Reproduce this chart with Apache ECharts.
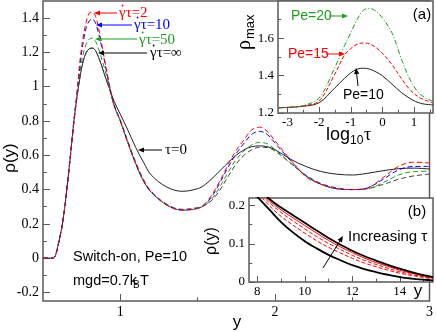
<!DOCTYPE html>
<html><head><meta charset="utf-8">
<script src="https://cdn.jsdelivr.net/npm/echarts@6/dist/echarts.min.js"></script>
<style>html,body{margin:0;padding:0;background:#fff}#c{width:436px;height:332px}</style>
</head><body><div id="c"></div>
<script>
// ---------- main panel data ----------
const mainX = [0.5,0.56,0.58,0.6,0.62,0.64,0.66,0.68,0.7,
  0.72,0.74,0.76,0.78,0.8,0.82,0.84,0.86,0.88,0.9,
  0.93,0.96,1.0,1.05,1.1,1.15,1.2,1.3,1.4,1.5,
  1.55,1.6,1.65,1.7,1.75,1.8,1.85,1.9,1.95,2.0,
  2.1,2.2,2.3,2.4,2.5,2.6,2.7,2.8,2.9,3.0];
const rhoShear2 = [0,0,0.015,0.085,0.17,0.29,0.45,0.62,0.80,
  0.97,1.16,1.29,1.38,1.43,1.435,1.41,1.34,1.25,1.15,
  1.01,0.89,0.80,0.67,0.55,0.45,0.385,0.31,0.28,0.29,
  0.32,0.38,0.46,0.55,0.63,0.69,0.748,0.764,0.74,0.685,
  0.575,0.475,0.43,0.405,0.40,0.41,0.47,0.535,0.56,0.555];
const rhoShear10 = [0,0,0.015,0.085,0.17,0.29,0.45,0.62,0.80,
  0.96,1.13,1.26,1.345,1.385,1.394,1.37,1.31,1.23,1.14,
  1.005,0.89,0.80,0.67,0.55,0.45,0.385,0.31,0.28,0.29,
  0.315,0.37,0.45,0.535,0.61,0.67,0.722,0.74,0.722,0.672,
  0.57,0.48,0.43,0.405,0.40,0.41,0.46,0.515,0.535,0.535];
const rhoShear50 = [0,0,0.015,0.085,0.17,0.29,0.45,0.62,0.80,
  0.95,1.09,1.19,1.25,1.278,1.283,1.265,1.22,1.16,1.10,
  0.995,0.89,0.80,0.67,0.55,0.45,0.385,0.31,0.28,0.29,
  0.31,0.355,0.425,0.505,0.575,0.625,0.66,0.676,0.667,0.635,
  0.555,0.48,0.43,0.405,0.40,0.405,0.44,0.485,0.505,0.507];
const rhoShearInf = [0,0,0.015,0.085,0.17,0.29,0.45,0.62,0.80,
  0.94,1.06,1.15,1.20,1.222,1.225,1.21,1.17,1.12,1.065,
  0.985,0.895,0.805,0.68,0.56,0.46,0.39,0.315,0.285,0.295,
  0.31,0.345,0.405,0.48,0.55,0.60,0.632,0.647,0.645,0.625,
  0.555,0.485,0.435,0.41,0.40,0.405,0.43,0.46,0.48,0.49];
const rhoTau0 = [0,0,0.015,0.085,0.17,0.29,0.45,0.62,0.80,
  0.94,1.06,1.15,1.20,1.222,1.225,1.21,1.17,1.12,1.065,
  0.99,0.915,0.84,0.745,0.645,0.56,0.485,0.415,0.39,0.405,
  0.43,0.47,0.515,0.56,0.60,0.632,0.65,0.655,0.65,0.633,
  0.578,0.535,0.505,0.49,0.485,0.495,0.51,0.522,0.525,0.52];
const mainXTicks = [1,2,3];
const mainXMinor = [1.5,2.5];
const mainYTicks = [-0.2,0,0.2,0.4,0.6,0.8,1,1.2,1.4];
const mainYMinor = [-0.1,0.1,0.3,0.5,0.7,0.9,1.1,1.3];

// ---------- inset (a) data ----------
const logTau = [-3.3,-3,-2.5,-2,-1.5,-1.2,-1,-0.8,-0.6,-0.4,-0.2,0,0.3,0.6,0.9,1.2,1.6];
const rhoMaxPe10 = [1.228,1.23,1.236,1.255,1.335,1.385,1.415,1.435,1.44,1.435,1.42,1.40,1.355,1.31,1.275,1.252,1.243];
const rhoMaxPe15 = [1.228,1.23,1.238,1.265,1.41,1.51,1.545,1.568,1.575,1.57,1.55,1.52,1.46,1.385,1.32,1.28,1.255];
const rhoMaxPe20 = [1.228,1.23,1.24,1.28,1.445,1.56,1.63,1.70,1.75,1.76,1.745,1.71,1.63,1.49,1.37,1.30,1.262];
const aXTicks = [-3,-2,-1,0,1];
const aXMinor = [-2.5,-1.5,-0.5,0.5,1.5];
const aYTicks = [1.2,1.4,1.6];
const aYMinor = [1.3,1.5,1.7];

// ---------- inset (b) data ----------
const bX = [7.65,8,8.5,9,9.5,10,10.5,11,11.5,12,12.5,13,13.5,14,14.5,15,15.4];
const bLower = [0.245,0.223,0.19,0.157,0.130,0.107,0.088,0.071,0.057,0.044,0.034,0.026,0.019,0.013,0.009,0.006,0.004];
const bRed3 = [0.255,0.235,0.2,0.172,0.149,0.128,0.108,0.091,0.076,0.062,0.050,0.040,0.031,0.023,0.017,0.012,0.008];
const bRed2 = [0.26,0.24,0.208,0.182,0.160,0.139,0.119,0.101,0.085,0.070,0.057,0.046,0.036,0.027,0.020,0.014,0.010];
const bRed1 = [0.265,0.245,0.213,0.189,0.168,0.148,0.128,0.109,0.092,0.077,0.063,0.051,0.041,0.031,0.023,0.016,0.011];
const bUpper = [0.27,0.25,0.218,0.195,0.175,0.155,0.135,0.115,0.098,0.082,0.068,0.056,0.045,0.035,0.026,0.018,0.013];
const bXTicks = [8,10,12,14];
const bXMinor = [9,11,13,15];
const bYTicks = [0,0.1,0.2];
const bYMinor = [0.05,0.15];

const SERIF = '"Liberation Serif","DejaVu Serif",serif';
const SANS = '"Liberation Sans",Arial,sans-serif';
const RED = '#ff0000', BLUE = '#0000ff', GREEN = '#1f9c1f', BLACK = '#000000', GRAY = '#444444';
const FRAME = '#5a5a5a';

function pairs(xs, ys) { return xs.map((x, i) => [x, ys[i]]); }
function fmt(v) { return String(Math.round(v * 10) / 10); }

function axisPair(dim, gridIndex, min, max, majors, minors, z, fontSize, margin, len) {
  const base = {
    type: 'value', gridIndex, min, max, z,
    position: dim === 'x' ? 'bottom' : 'left',
    offset: 0,
    splitLine: { show: false },
    axisLine: { show: false, onZero: false }
  };
  const major = Object.assign({}, base, {
    axisTick: { show: true, inside: true, length: len, customValues: majors, lineStyle: { color: FRAME, width: 1 } },
    axisLabel: { show: true, customValues: majors, formatter: fmt, margin,
      fontFamily: SERIF, fontSize, color: '#000' }
  });
  const minor = Object.assign({}, base, {
    axisTick: { show: true, inside: true, length: len * 0.55, customValues: minors, lineStyle: { color: FRAME, width: 1 } },
    axisLabel: { show: false }
  });
  return [major, minor];
}

const xAxes = [
  ...axisPair('x', 0, 0.5, 3, mainXTicks, mainXMinor, 1, 14, 4, 7),
  ...axisPair('x', 1, -3.3, 1.6, aXTicks, aXMinor, 11, 13, 3, 6),
  ...axisPair('x', 2, 7.65, 15.4, bXTicks, bXMinor, 21, 13, 3, 6)
];
const yAxes = [
  ...axisPair('y', 0, -0.25, 1.5, mainYTicks, mainYMinor, 1, 14, 4, 7),
  ...axisPair('y', 1, 1.2, 1.8, aYTicks, aYMinor, 11, 13, 4, 6),
  ...axisPair('y', 2, 0, 0.22, bYTicks, bYMinor, 21, 13, 4, 6)
];

function line(xs, ys, color, type, width, xi, yi, z) {
  return {
    type: 'line', data: pairs(xs, ys), xAxisIndex: xi, yAxisIndex: yi, z,
    showSymbol: false, smooth: 0.35, clip: true, animation: false, silent: true,
    lineStyle: { color, width, type }
  };
}

const series = [
  line(mainX, rhoTau0, '#222', 'solid', 1, 0, 0, 2),
  line(mainX, rhoShearInf, GRAY, [5, 3], 1, 0, 0, 2),
  line(mainX, rhoShear50, GREEN, [5, 3], 1, 0, 0, 2),
  line(mainX, rhoShear10, BLUE, [5, 3], 1, 0, 0, 2),
  line(mainX, rhoShear2, RED, [5, 3], 1, 0, 0, 2),
  line(logTau, rhoMaxPe10, '#222', 'solid', 1, 2, 2, 12),
  line(logTau, rhoMaxPe15, RED, [4, 2], 1, 2, 2, 12),
  line(logTau, rhoMaxPe20, GREEN, [5, 2, 1, 2], 1, 2, 2, 12),
  line(bX, bLower, BLACK, 'solid', 1.8, 4, 4, 22),
  line(bX, bRed3, RED, [4, 2], 1, 4, 4, 22),
  line(bX, bRed2, RED, [4, 2], 1, 4, 4, 22),
  line(bX, bRed1, RED, 'solid', 1, 4, 4, 22),
  line(bX, bUpper, BLACK, 'solid', 1.8, 4, 4, 22)
];

function txt(text, x, y, opt, rot) {
  const el = {
    type: 'text', z: 50, silent: true,
    style: Object.assign({ text, x, y, fill: '#000', font: '15px ' + SANS,
      align: 'left', verticalAlign: 'middle' }, opt || {})
  };
  if (rot) { el.x = x; el.y = y; el.rotation = rot; el.style.x = 0; el.style.y = 0; }
  return el;
}
function arrow(x1, y1, x2, y2, color) {
  const a = Math.atan2(y2 - y1, x2 - x1), L = 6, W = 2.6;
  const bx = x2 - L * Math.cos(a), by = y2 - L * Math.sin(a);
  return [
    { type: 'line', z: 50, silent: true, shape: { x1, y1, x2: bx, y2: by }, style: { stroke: color, lineWidth: 1 } },
    { type: 'polygon', z: 50, silent: true, shape: { points: [[x2, y2],
      [bx + W * Math.sin(a), by - W * Math.cos(a)], [bx - W * Math.sin(a), by + W * Math.cos(a)]] },
      style: { fill: color } }
  ];
}
// "γ̇τ=..." label: gamma with a dot drawn above it
function shearLabel(value, x, y, color) {
  return [
    txt('γτ=' + value, x, y, { font: '15px ' + SERIF, fill: color }),
    { type: 'circle', z: 50, silent: true, shape: { cx: x + 3.6, cy: y - 7.5, r: 0.9 }, style: { fill: color } }
  ];
}

const graphics = [
  // main axis titles
  txt('ρ(y)', 10, 158, { font: '17px ' + SANS, align: 'center' }, Math.PI / 2),
  txt('y', 237, 322, { font: '17px ' + SANS, align: 'center' }),
  // curve labels
  ...shearLabel('2', 119, 13, RED),
  ...arrow(117, 13, 94, 13, RED),
  ...shearLabel('10', 134, 25, BLUE),
  ...arrow(132, 25, 96, 25, BLUE),
  ...shearLabel('50', 139, 40, GREEN),
  ...arrow(137, 39, 95, 39, GREEN),
  ...shearLabel('∞', 150, 53, '#000'),
  ...arrow(147, 53, 98, 53, '#000'),
  txt('τ=0', 165, 150, { font: '15px ' + SERIF }),
  ...arrow(162, 150, 138, 150, '#000'),
  txt('Switch-on, Pe=10', 73, 257, { font: '14.5px ' + SANS }),
  txt('mgd=0.7k', 73, 281, { font: '14.5px ' + SANS }),
  txt('B', 133, 285, { font: '10px ' + SANS }),
  txt('T', 140, 281, { font: '14.5px ' + SANS }),
  // inset (a)
  txt('(a)', 422, 15, { font: '15px ' + SANS, align: 'center' }),
  txt('Pe=20', 291, 16, { font: '14px ' + SANS, fill: GREEN }),
  ...arrow(329, 16, 348, 16, GREEN),
  txt('Pe=15', 288, 54, { font: '14px ' + SANS, fill: RED }),
  ...arrow(326, 54, 345, 54, RED),
  txt('Pe=10', 343, 95, { font: '14px ' + SANS }),
  ...arrow(358, 86, 356, 68, '#000'),
  txt('log', 326, 135, { font: '18px ' + SANS }),
  txt('10', 350, 141, { font: '12px ' + SANS }),
  txt('τ', 364, 135, { font: '18px ' + SERIF }),
  { type: 'group', x: 245, y: 36, rotation: Math.PI / 2, z: 50, children: [
    txt('ρ', -14, 0, { font: '20px ' + SERIF }),
    txt('max', -3, 5, { font: '13px ' + SANS })
  ] },
  // inset (b)
  txt('(b)', 417, 212, { font: '15px ' + SANS, align: 'center' }),
  txt('ρ(y)', 212, 241, { font: '16px ' + SANS, align: 'center' }, Math.PI / 2),
  txt('y', 418, 291, { font: '17px ' + SANS, align: 'center' }),
  txt('Increasing τ', 348, 237, { font: '15px ' + SANS }),
  ...arrow(323, 268, 343, 236, '#000')
];

const chart = echarts.init(document.getElementById('c'), null, { renderer: 'canvas' });
chart.setOption({
  animation: false,
  backgroundColor: '#fff',
  grid: [
    { left: 43, top: 1, right: 3, bottom: 31, show: true, borderColor: FRAME, borderWidth: 1.5, z: 0 },
    { left: 278, top: 1, right: 3, height: 112, show: true, borderColor: FRAME, borderWidth: 1.5, backgroundColor: '#fff', z: 10 },
    { left: 249, top: 198, right: 3, bottom: 50, show: true, borderColor: FRAME, borderWidth: 1.5, backgroundColor: '#fff', z: 20 }
  ],
  xAxis: xAxes,
  yAxis: yAxes,
  series,
  graphic: graphics
});
</script></body></html>
